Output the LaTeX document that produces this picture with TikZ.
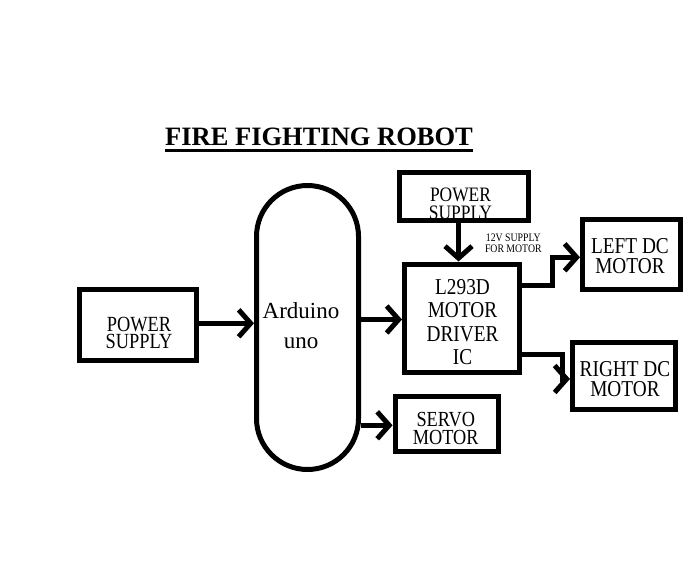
\documentclass[tikz,border=0pt]{standalone}
\usepackage{fontspec}
\setmainfont{Liberation Serif}
\newfontfamily\condfont[FakeStretch=0.85]{Liberation Serif}
\usetikzlibrary{arrows.meta}

\begin{document}
\begin{tikzpicture}[x=1pt,y=-1pt,
	block/.style={draw,line width=5pt,inner sep=0pt},
	btxt/.style={align=center,font=\condfont\fontsize{22.7}{20}\selectfont},
	link/.style={line width=5pt,-{Straight Barb[length=12pt,width=27pt]}}]
	\tikzstyle{every node}+=[inner sep=0pt]
	\useasboundingbox (0,0) rectangle (696,570);
	\node (title) [anchor=base,font=\fontsize{26.5}{30}\selectfont\bfseries] at (319,145) {FIRE FIGHTING ROBOT};
	\draw [line width=3pt] ([shift={(0,5)}]title.base west) -- ([shift={(0,5)}]title.base east);
	% blocks
	\node (ps1) [block,minimum width=117pt,minimum height=70.5pt] at (138,324.8) {};
	\node (ard) [block,rounded corners=51pt,minimum width=102pt,minimum height=284pt] at (307.5,327.5) {};
	\node (ps2) [block,minimum width=129pt,minimum height=47.5pt] at (463.5,196.3) {};
	\node (drv) [block,minimum width=115pt,minimum height=108pt] at (462,318) {};
	\node (lft) [block,minimum width=98pt,minimum height=70pt] at (631.5,254.3) {};
	\node (rgt) [block,minimum width=103pt,minimum height=67pt] at (624,376) {};
	\node (srv) [block,minimum width=103.5pt,minimum height=55.5pt] at (446.8,423.8) {};
	% texts
	\node (ps1txt) [btxt,font=\condfont\fontsize{21.6}{17.3}\selectfont] at (139,332.8) {POWER\\SUPPLY};
	\node (ardtxt) [align=center,font=\fontsize{23}{30}\selectfont] at (301,325.5) {Arduino\\uno};
	\node (ps2txt) [btxt,font=\condfont\fontsize{20.5}{18.3}\selectfont] at (460.5,203.5) {POWER\\SUPPLY};
	\node (drvtxt) [btxt,font=\condfont\fontsize{22.7}{23.3}\selectfont] at (462.5,322) {L293D\\MOTOR\\DRIVER\\IC};
	\node (lfttxt) [btxt] at (630,256) {LEFT DC\\MOTOR};
	\node (rgttxt) [btxt] at (625,379.5) {RIGHT DC\\MOTOR};
	\node (srvtxt) [btxt,font=\condfont\fontsize{21.5}{18.3}\selectfont] at (445.8,428.3) {SERVO\\MOTOR};
	\node (lbl) [align=center,font=\condfont\fontsize{11.5}{11}\selectfont] at (513.3,243.7) {12V SUPPLY\\FOR MOTOR};
	% connectors
	\draw [link] ([shift={(0,-1.5)}]ps1.east) -- ([shift={(0,-1.5)}]ps1.east -| ard.west);
	\draw [link] ([shift={(0,1.5)}]drv.west -| ard.east) -- ([shift={(0,1.5)}]drv.west);
	\draw [link] ([shift={(0,1.5)}]srv.west -| ard.east) -- ([shift={(0,1.5)}]srv.west);
	\draw [link] ([shift={(-5,0)}]ps2.south) -- ([shift={(-5,0)}]ps2.south |- drv.north);
	\draw [link] ([shift={(0,-32.5)}]drv.east) -- ++(30.5,0) |- ([shift={(0,3)}]lft.west);
	\draw [link] ([shift={(0,36.5)}]drv.east) -- ++(40.5,0) |- ([shift={(0,3)}]rgt.west);
\end{tikzpicture}
\end{document}
